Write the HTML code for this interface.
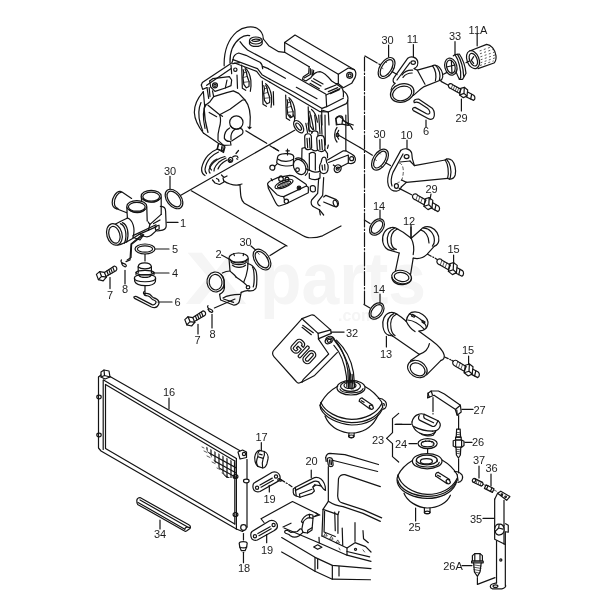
<!DOCTYPE html>
<html><head><meta charset="utf-8">
<style>
html,body{margin:0;padding:0;background:#fff;}
svg{display:block}
svg *{vector-effect:non-scaling-stroke}
.k path,.k ellipse,.k line,.k circle,.k polyline,.k rect,.k polygon{fill:none;stroke:#141414;stroke-width:1.2;stroke-linecap:round;stroke-linejoin:round}
.k .w{fill:#fff}
.k .b{fill:#1c1c1c}
.k .t{stroke-width:.7}
.k .d{stroke-dasharray:14 2 1.5 2}
text{font-family:"Liberation Sans",sans-serif;font-size:11px;fill:#1c1c1c;text-anchor:middle}
.wm{font-family:"Liberation Sans",sans-serif;font-weight:bold;fill:#f5f5f5;text-anchor:start}
</style></head><body>
<svg width="600" height="600" viewBox="0 0 600 600">
<rect width="600" height="600" fill="#fff"/>
<defs><filter id="idb" color-interpolation-filters="sRGB" x="-20%" y="-20%" width="140%" height="140%"><feOffset dx="0" dy="0"/></filter></defs>
<!-- watermark -->
<g filter="url(#idb)">
<text class="wm" x="185" y="304" style="font-size:74px" textLength="62" lengthAdjust="spacingAndGlyphs">X</text><text class="wm" x="260" y="304" style="font-size:74px" textLength="166" lengthAdjust="spacingAndGlyphs">parts</text>
<text class="wm" x="338" y="321" style="font-size:16px">.com</text>
</g>
<g class="k">
<!-- TILE A: part 1 housing, origin 90,160 scale .2 -->
<g transform="translate(90,160) scale(.2)">
<!-- upper-left port -->
<path class="w" d="M150,157 L210,193 L186,266 L133,244 C112,235 105,200 118,180 Z" style="stroke:none"/>
<path d="M150,157 C130,157 111,187 111,213 C111,230 120,241 133,244"/>
<path d="M157,161 C138,163 122,190 122,215 C122,230 129,239 140,243"/>
<path d="M150,157 L160,160 L208,192"/>
<path d="M133,244 L184,264"/>
<!-- cylinder B (back right) -->
<path class="w" d="M257,180 L260,215 L300,320 L352,275 L353,180 Z" style="stroke:none"/>
<path d="M256,184 L259,208"/>
<path d="M356,184 L356,272"/>
<ellipse class="w" cx="306" cy="181" rx="50" ry="29"/>
<ellipse cx="306" cy="183" rx="42" ry="22"/>
<path d="M268,196 C282,216 332,216 345,197"/>
<!-- flange right -->
<path d="M352,232 C368,232 378,242 378,256 L381,330 C381,345 366,352 348,353 L335,355"/>
<path d="M286,305 L300,322 L356,272"/>
<path d="M300,320 L292,352"/>
<path d="M318,318 L350,300"/>
<!-- cylinder A (front left) -->
<path class="w" d="M184,232 L186,292 L215,385 L290,350 L285,232 Z" style="stroke:none"/>
<path d="M184,235 L187,292"/>
<path d="M284,236 L286,305"/>
<ellipse class="w" cx="234" cy="232" rx="50" ry="29"/>
<ellipse cx="234" cy="234" rx="42" ry="22"/>
<path d="M197,247 C210,268 262,268 273,249"/>
<!-- front-left port -->
<path class="w" d="M122,327 C150,310 175,296 188,290 C215,300 228,340 215,386 L245,372 C200,400 165,420 135,428 Z" style="stroke:none"/>
<path d="M128,320 C150,308 175,296 188,290"/>
<path d="M138,426 C165,420 200,402 245,372"/>
<path d="M188,290 C214,300 228,342 215,386"/>
<path d="M152,318 C178,328 188,378 172,416"/>
<path d="M162,313 C188,323 198,372 183,411"/>
<ellipse class="w" cx="122" cy="372" rx="38" ry="55" transform="rotate(-16 122 372)"/>
<ellipse cx="122" cy="374" rx="27" ry="43" transform="rotate(-16 122 374)"/>
<!-- bottom tab -->
<path d="M215,378 L330,324"/>
<path d="M245,372 L333,333"/>
<path d="M250,372 C268,386 295,388 306,376 L333,352"/>
<path d="M326,332 L345,326 L346,345 L328,351 Z"/>
<path d="M215,386 L250,400 L268,374"/>
<!-- leader to clip 8 -->
<path d="M268,374 L208,422 L205,488 L186,500"/>
<!-- o-ring 30 -->
<ellipse cx="420" cy="195" rx="55" ry="36" transform="rotate(52 420 195)"/>
<ellipse cx="420" cy="195" rx="45" ry="27" transform="rotate(52 420 195)"/>
<!-- leaders -->
<path d="M400,82 L400,145"/>
<path d="M385,312 L440,312"/>
</g>
<!-- TILE B: parts 5,4,6,7,8 origin 90,230 scale .2 -->
<g transform="translate(90,230) scale(.2)">
<ellipse cx="275" cy="95" rx="50" ry="25"/>
<ellipse cx="275" cy="95" rx="38" ry="16"/>
<path d="M328,95 L395,95"/>
<path d="M275,122 L275,155"/>
<!-- thermostat 4 -->
<path d="M241,215 L241,182 C245,160 300,158 307,182 L307,215"/>
<path d="M241,185 C255,197 295,197 307,185"/>
<path d="M230,212 C240,198 310,198 320,212 C318,228 235,230 230,212 Z"/>
<path d="M230,212 L230,222 M320,212 L320,222"/>
<path d="M222,240 C222,218 328,218 328,240 C328,265 222,265 222,240 Z"/>
<path d="M222,240 L224,258 C235,285 318,285 327,258 L328,240"/>
<path d="M245,228 C255,240 295,240 305,228"/>
<path d="M312,215 L395,215"/>
<path d="M275,282 L275,322"/>
<!-- clip 6 -->
<path d="M270,318 C280,316 292,318 300,322 C308,328 310,334 317,338 C328,342 340,348 343,355 C346,362 346,368 343,372 C338,382 330,388 323,388 C318,388 312,387 307,385 L223,342 C218,338 218,333 223,333 C227,331 230,331 233,333 L310,373 C318,376 324,372 327,368 C330,364 331,360 330,358 C326,352 318,350 313,348 C306,344 304,338 300,335 C294,330 286,328 280,328"/>
<path d="M272,306 C266,310 266,320 270,318 M280,328 C274,328 270,324 270,318"/>
<path d="M340,360 L410,360"/>
<!-- bolt 7 left -->
<path d="M32,222 L48,208 L72,212 L82,236 L66,254 L42,248 Z"/>
<path d="M48,208 L58,232 L82,236 M58,232 L42,248"/>
<path d="M72,212 L122,180 C134,182 138,196 130,204 L80,232"/>
<path d="M84,205 L92,225 M94,199 L102,219 M104,193 L112,213 M114,187 L122,207"/>
<path d="M100,238 L100,293"/>
<!-- clip 8 -->
<path d="M157,150 C150,158 160,166 170,168 C182,172 186,182 176,184 C168,182 160,174 158,168"/>
<path d="M180,158 L200,150 L205,70 L262,22"/>
<path d="M175,202 L175,270"/>
<!-- bolt 7 right -->
<path d="M474,448 L490,434 L514,438 L524,462 L508,480 L484,474 Z"/>
<path d="M490,434 L500,458 L524,462 M500,458 L484,474"/>
<path d="M514,438 L566,404 C578,406 582,420 574,428 L522,458"/>
<path d="M527,430 L535,450 M537,424 L545,444 M547,417 L555,437 M557,411 L565,431"/>
<path d="M540,472 L540,520"/>
</g>
<!-- TILE C: part 2 origin 180,230 scale .2 -->
<g transform="translate(180,230) scale(.2)">
<!-- o-ring 30 -->
<ellipse cx="410" cy="148" rx="58" ry="36" transform="rotate(55 410 148)"/>
<ellipse cx="410" cy="148" rx="47" ry="26" transform="rotate(55 410 148)"/>
<path d="M388,112 L396,122 M432,132 L440,140 M392,170 L400,178 M424,186 L430,192" class="t"/>
<path d="M355,80 L378,100"/>
<path d="M450,128 L530,78"/>
<path d="M208,125 L245,145"/>
<!-- body flange -->
<path d="M338,168 C352,170 368,182 378,200 C386,215 386,270 380,290 C372,302 356,306 345,304"/>
<path d="M362,185 C372,200 374,260 366,285"/>
<ellipse cx="340" cy="286" rx="9" ry="8"/>
<!-- top cylinder -->
<path d="M245,143 L250,205 C258,215 270,218 280,235"/>
<path d="M341,143 L338,195 C335,215 328,240 318,262"/>
<ellipse class="w" cx="293" cy="140" rx="48" ry="25"/>
<path d="M250,146 C262,165 322,165 336,146"/>
<path d="M255,160 C268,178 320,178 333,160"/>
<path d="M262,176 C275,190 315,190 328,176"/>
<path d="M268,118 L272,128 M318,118 L316,128"/>
<!-- body -->
<path d="M250,205 C240,205 225,208 212,215"/>
<path d="M280,235 C300,250 315,258 335,278"/>
<path d="M222,272 C225,295 215,315 198,322"/>
<path d="M198,322 L203,350 L270,376 C285,374 296,364 298,352 L306,312"/>
<path d="M215,340 C235,328 265,322 300,322"/>
<path d="M218,345 L268,362"/>
<path d="M306,312 C318,306 330,300 345,304"/>
<!-- left port -->
<ellipse class="w" cx="178" cy="260" rx="43" ry="50" transform="rotate(-8 178 260)"/>
<ellipse cx="178" cy="261" rx="32" ry="39" transform="rotate(-8 178 261)"/>
<path d="M205,222 C222,235 225,265 218,290"/>
<!-- leader dash to clip -->
<path d="M275,345 L172,390"/>
<!-- clip 8 -->
<path d="M140,378 C133,386 143,394 152,396 C164,400 168,410 158,412 C150,410 142,402 140,396"/>
<path d="M160,422 L160,490"/>
</g>
<!-- ENGINE tile a: origin 190,25 scale 1/6 -->
<g transform="translate(190,25) scale(.166667)">
<path d="M205,245 C203,170 225,90 282,40 C320,10 372,4 402,20 C426,34 440,58 440,84"/>
<path d="M240,228 C238,170 258,112 300,80 C318,66 340,60 358,64"/>
<path d="M440,84 L472,124 L532,160 L568,164"/>
<ellipse cx="395" cy="93" rx="38" ry="21"/>
<path d="M357,95 L357,112 C366,134 424,134 433,112 L433,95"/>
<path d="M370,92 C380,82 412,82 422,90 C412,100 380,102 370,92 Z"/>
<path d="M300,100 C312,118 328,135 345,150 L480,222.5"/>
<path d="M258,208 C258,190 272,172 292,168 L336,182 L420,224 C432,234 436,250 436,262"/>
<path d="M258,208 L405,262 L432,298 L480,325.5"/>
<path d="M268,228 L400,278 L426,312 L480,343.5"/>
<path d="M470,262 L572,320"/>
<path d="M440,250 L470,262"/>
<!-- bracket -->
<path d="M68,360 L74,345 L252,226 L258,208"/>
<path d="M68,360 L76,386 L102,375"/>
<path d="M100,362 L245,262"/>
<path d="M118,336 L136,322 L236,310 L250,330 L246,364 L212,378"/>
<path d="M118,336 L124,372 L150,398 L212,378 L222,330"/>
<circle cx="150" cy="362" r="15"/><circle cx="150" cy="362" r="7"/>
<circle cx="272" cy="268" r="10"/>
<path d="M246,240 L250,292 M256,232 L298,226 M282,300 L285,380"/>
<path d="M102,375 L112,440"/>
<g transform="translate(210,180) scale(.8) translate(0,0)"><path d="M125,75 L130,250 L155,265"/>
<path d="M150,95 C170,110 188,145 194,190 C197,225 195,250 190,272"/>
<path d="M136,110 L141,132 L135,170 L141,220 L160,246 L180,236 L181,200 L166,160 L161,130 L151,108"/>
<path class="t" d="M135,170 L166,160 M139,205 L181,200 M141,132 L161,130"/></g>
<g transform="translate(210,180) scale(.8) translate(155,120)"><path d="M125,75 L130,250 L155,265"/>
<path d="M150,95 C170,110 188,145 194,190 C197,225 195,250 190,272"/>
<path d="M136,110 L141,132 L135,170 L141,220 L160,246 L180,236 L181,200 L166,160 L161,130 L151,108"/>
<path class="t" d="M135,170 L166,160 M139,205 L181,200 M141,132 L161,130"/></g>
<g transform="translate(210,180) scale(.8) translate(330,225)"><path d="M125,75 L130,250 L155,265"/>
<path d="M150,95 C170,110 188,145 194,190 C197,225 195,250 190,272"/>
<path d="M136,110 L141,132 L135,170 L141,220 L160,246 L180,236 L181,200 L166,160 L161,130 L151,108"/>
<path class="t" d="M135,170 L166,160 M139,205 L181,200 M141,132 L161,130"/></g>
</g>
<!-- ENGINE tile b: origin 270,25 scale 1/6 -->
<g transform="translate(270,25) scale(.166667)">
<!-- box -->
<path d="M88,105 L150,60 L506,268"/>
<path d="M88,105 L88,164 L235,250"/>
<path d="M88,105 L410,296"/>
<path d="M410,296 L470,258 L506,268 C516,280 516,302 510,316 L490,350 L440,376 L410,352 Z"/>
<circle cx="478" cy="302" r="18"/><circle cx="478" cy="302" r="9"/>
<!-- bracket -->
<path d="M235,250 L232,290 L200,310 L195,325 L215,336 L245,316 C258,296 278,280 300,280 C325,284 350,312 370,336 L396,352 L410,352"/>
<path d="M242,262 L242,296 M252,268 L252,300 M262,272 L258,300"/>
<path d="M205,318 L240,298"/>
<!-- cover right end -->
<path d="M396,352 L430,376 C440,388 442,410 440,432"/>
<path d="M440,396 C455,404 466,420 468,440 C468,455 464,466 458,472 L350,522 L310,510"/>
<path d="M336,420 L340,490 L440,440"/>
<path d="M340,490 L312,500"/>
<path d="M330,386 L396,360 M350,400 L406,376 M362,412 L416,388"/>
<path d="M336,420 L420,382"/>
<!-- cover ridges -->
<path d="M0,223 L334,414"/>
<path d="M250,334 L306,366 M262,322 L318,354 M240,350 L296,382"/>
<path d="M0,325 L146,404 L310,500"/>
<path d="M0,344 L300,520 L350,522"/>
<path d="M158,374 L282,442"/>
<!-- recess 4 -->
<g transform="translate(-480,0) translate(210,180) scale(.8) translate(499,313)"><path d="M125,75 L130,250 L155,265"/><path d="M150,95 C170,110 188,145 194,190"/><path d="M136,110 L141,132 L135,170 L141,220 L160,246"/></g>
<path d="M20,400 L22,480"/>
<!-- head right -->
<path d="M466,450 L470,600"/>
<path d="M350,522 L354,600"/>
<path d="M310,510 L312,600"/>
<!-- sender top -->
<path d="M395,560 C400,545 425,540 435,552 L440,575 L470,590 L500,600"/>
<path d="M395,560 L398,600"/>
</g>
<!-- ENGINE tile c: origin 190,115 scale 1/6 -->
<g transform="translate(190,115) scale(.166667)">
<!-- long leader lines -->
<path d="M-55,482 L628,92"/>
<path d="M8,455 L582,786"/>
<!-- dash-dot to fuel pump -->
<path d="M335,95 L460,170 M480,184 L530,214"/>
<!-- pulley -->
<path d="M165,204 C140,214 122,226 108,242 C90,262 76,290 70,318 C68,338 74,354 90,363"/>
<path d="M171,222 C150,232 135,242 122,256 C106,274 94,300 90,326 C90,338 94,346 99,351"/>
<path d="M210,249 C190,254 175,260 160,270 C140,284 122,305 114,328 C113,338 116,344 120,348"/>
<path d="M162,264 C148,270 138,278 130,288 C122,298 118,308 120,316 C122,322 125,327 129,330"/>
<path d="M216,258 C198,264 184,274 172,284 C160,296 150,310 146,322 L144,336"/>
<path d="M222,270 C206,278 194,288 184,298 C176,308 170,316 168,324"/>
<path d="M171,177 L162,204 L192,219 L201,225 L210,192 L204,183"/>
<path d="M192,192 L189,216"/>
<ellipse cx="243" cy="270" rx="13" ry="15" transform="rotate(30 243 270)"/>
<circle cx="242" cy="273" r="6"/>
<path d="M256,252 C264,246 276,244 284,248 L288,256"/>
<path d="M276,231 L291,213 M280,262 L286,265"/>
<!-- block bottom outline -->
<path d="M135,390 L150,408 L177,417 L204,402 L198,378 M204,396 C215,405 228,410 240,414 C258,420 275,422 288,420 L300,420 C302,450 303,475 306,492 C310,510 316,522 326,530 L660,714 C680,726 694,734 712,736 C745,738 775,732 795,725 L906,666"/>
<path d="M189,360 L204,375 L222,366 M159,381 L171,387 L174,399"/>
<path d="M288,420 L312,414"/>
</g>
<!-- ENGINE tile d: origin 270,115 scale 1/6 -->
<g transform="translate(270,115) scale(.166667)">
<!-- gasket on engine -->
<ellipse cx="172" cy="70" rx="42" ry="23" transform="rotate(55 172 70)"/>
<ellipse cx="172" cy="70" rx="25" ry="11" transform="rotate(55 172 70)"/>
<!-- plug recess 4 continuing + wires -->
<path d="M118,0 L128,12 M140,0 L150,20"/>
<path d="M245,0 C250,30 258,60 262,88"/>
<path d="M268,0 C272,30 276,60 275,88"/>
<path d="M215,50 L225,105 M228,48 L236,100"/>
<path d="M292,0 L300,112 M306,0 L312,115"/>
<path d="M330,0 L332,180"/>
<!-- distributor towers -->
<path d="M208,130 C208,108 245,106 248,128 L250,195 C245,212 215,212 210,195 Z"/>
<path d="M250,110 C252,90 285,90 288,108 L288,125"/>
<path d="M280,140 C282,118 322,116 326,140 L330,205 C325,224 290,224 284,205 Z"/>
<path d="M222,140 L226,195 M236,138 L240,196 M296,150 L300,208 M310,148 L314,208"/>
<!-- distributor body -->
<path d="M192,200 L210,195 M192,200 L190,290 C200,312 220,328 236,332"/>
<path d="M250,205 C262,215 275,218 284,212"/>
<path d="M330,210 L345,232 L345,256"/>
<path d="M236,232 L236,330 C255,345 285,345 298,338"/>
<path d="M236,232 C250,222 262,222 272,232 L272,330"/>
<path d="M236,350 L236,380 C255,392 290,390 300,378 L300,348"/>
<!-- side bulb -->
<path d="M305,345 C292,330 296,300 306,285 L312,262 C318,250 332,250 336,262 L340,285 C352,300 352,330 340,345 C330,352 315,352 305,345 Z"/>
<path d="M312,300 L316,330 M328,298 L330,330"/>
<!-- vacuum disc -->
<path d="M152,262 C172,250 205,262 222,295 C232,322 228,350 212,362"/>
<ellipse cx="178" cy="312" rx="34" ry="48" transform="rotate(-28 178 312)" class="w"/>
<circle cx="165" cy="328" r="11"/>
<!-- fuel pump -->
<path d="M45,255 C45,228 140,222 142,250"/>
<path d="M45,255 L40,285 C50,305 110,312 140,300 L142,250"/>
<path d="M48,265 C70,282 120,282 140,266"/>
<path d="M105,205 L105,240 M96,215 L116,215"/>
<circle cx="14" cy="316" r="15"/>
<path d="M28,308 L45,290"/>
<path d="M20,195 L52,215"/>
<!-- base plate -->
<path d="M-14,410 C-8,400 2,394 14,390 L50,374 L118,362 C130,362 142,366 150,370 L214,414 C220,418 220,424 218,426 L82,490 C70,490 54,484 42,478 L-10,426 C-14,420 -16,414 -14,410 Z"/>
<path d="M-12,424 L-10,440 L34,526 C40,538 48,546 56,546 L94,534 L230,466 L230,434 L218,426"/>
<path d="M82,490 L86,506"/>
<circle cx="174" cy="438" r="11"/><circle cx="174" cy="438" r="5" class="b"/>
<circle cx="98" cy="518" r="13"/>
<circle cx="66" cy="384" r="14" class="w"/><circle cx="102" cy="386" r="12" class="w"/>
<path d="M56,374 C58,362 74,362 76,374 M94,378 C96,368 108,368 110,378"/>
<ellipse cx="84" cy="414" rx="58" ry="20" transform="rotate(-22 84 414)"/>
<ellipse cx="84" cy="416" rx="42" ry="11" transform="rotate(-22 84 416)"/>
<path class="t" d="M56,424 L108,402 M60,430 L112,408 M50,420 L100,398"/>
<path d="M6,382 L14,394"/>
<!-- small bolt near 250,440 -->
<path d="M242,430 C250,420 270,422 272,434 L272,455 C262,465 246,462 242,452 Z"/>
<!-- pipe down -->
<path d="M292,380 L286,470 L250,510 C240,530 250,548 270,555 L296,568 L322,600"/>
<path d="M322,375 L316,482 L288,518 C282,530 290,540 300,545"/>
<path d="M296,568 L302,600"/>
<!-- small cylinder -->
<path d="M322,492 L335,482 L398,508 C415,518 415,545 398,552 L385,548 L322,522"/>
<ellipse cx="392" cy="530" rx="12" ry="20" transform="rotate(-20 392 530)"/>
<!-- engine right side -->
<path d="M455,0 L455,215"/>
<path d="M350,180 L345,200"/>
<!-- mount bracket -->
<path d="M345,270 L440,215 L455,215 L492,236 C512,245 518,268 508,282 C498,292 480,292 470,288 L402,322"/>
<path d="M352,285 L470,240 L470,288"/>
<circle cx="490" cy="262" r="12"/>
<ellipse cx="406" cy="322" rx="20" ry="24" transform="rotate(30 406 322)"/><circle cx="406" cy="322" r="9"/>
<path d="M380,300 L390,308"/>
<!-- temp sender -->
<path d="M395,22 L414,8 L436,22 L432,55 L402,58 Z"/>
<path d="M436,28 L482,64 L496,86 L488,72"/>
<path d="M432,55 L470,62"/>
<!-- hook -->
<path d="M402,75 C385,95 382,140 402,162"/>
<path d="M412,92 C400,110 400,130 412,145"/>
<ellipse cx="405" cy="120" rx="8" ry="10"/>
<path d="M412,122 L540,195"/>
</g>
<!-- ENGINE timing cover: origin 185,75 scale 1/6 -->
<g transform="translate(185,75) scale(.166667)">
<path d="M118,186 L150,160 L172,130 L250,106 L290,95 L322,110 L360,150 C385,180 396,235 390,300 L386,322 M378,312 L386,322 L396,314"/>
<path d="M118,186 L115,200 C116,250 125,300 138,345"/>
<path d="M138,182 L208,238 C215,260 215,290 205,320 C198,345 196,370 198,392 L232,422"/>
<path d="M208,238 L270,205 L345,150 L360,150"/>
<path d="M145,225 L190,250 M208,238 L225,248"/>
<circle cx="308" cy="285" r="40"/>
<path d="M272,305 C282,325 310,332 335,318"/>
<path d="M268,318 C245,330 235,350 236,380 C245,395 262,400 272,398 L276,420 L232,422"/>
<path d="M300,326 C280,340 272,360 276,388"/>
<path d="M332,320 C350,325 352,345 342,355 L280,396"/>
<!-- left arcs -->
<path d="M110,100 C75,140 55,185 56,225 C58,270 80,310 112,350"/>
<path d="M96,165 C80,200 80,250 92,295 L106,335"/>
<path d="M126,176 C110,200 105,250 120,320"/>
<path d="M112,350 L165,386 L200,410 L232,424"/>
<path d="M200,415 L195,445 L230,456 L236,425"/>
<path d="M222,428 L220,452"/>
<path d="M110,100 L118,186"/>
<path d="M172,130 L165,95 M145,75 L150,130"/>
</g>
<!-- TILE F: part 11, ring 30, clip 6 origin 365,15 scale .2 -->
<g transform="translate(365,15) scale(.2)">
<!-- ring 30 -->
<ellipse cx="108" cy="265" rx="58" ry="34" transform="rotate(-58 108 265)"/>
<ellipse cx="108" cy="265" rx="47" ry="24" transform="rotate(-58 108 265)"/>
<path class="t" d="M80,262 L90,268 M100,230 L108,238 M112,296 L120,302 M135,262 L142,268"/>
<path d="M118,150 L118,210"/>
<path class="d" d="M0,205 L78,250"/>
<path d="M135,282 L160,298"/>
<path d="M242,148 L242,208"/>
<!-- flange -->
<path d="M150,342 C138,338 138,322 146,312 L214,216 C228,204 256,208 263,230 C267,248 258,262 246,268"/>
<path d="M160,325 L225,238"/>
<ellipse cx="241" cy="238" rx="11" ry="9"/>
<path d="M185,300 C195,285 215,275 238,276 M190,312 C200,298 218,290 236,290"/>
<!-- pipe body -->
<path d="M246,268 L262,276 L338,254"/>
<path d="M262,276 C275,300 290,328 300,346"/>
<path d="M242,402 C262,385 280,368 296,358 L376,326"/>
<path d="M150,342 C140,350 132,362 130,375"/>
<!-- bead -->
<path d="M338,254 C345,248 360,250 372,262 C388,280 394,308 384,322 C380,328 378,328 376,326"/>
<path d="M352,252 C372,268 380,300 372,326"/>
<path d="M338,254 C350,270 358,300 352,330"/>
<!-- opening -->
<ellipse class="w" cx="186" cy="390" rx="60" ry="45" transform="rotate(-18 186 390)"/>
<ellipse cx="186" cy="392" rx="49" ry="35" transform="rotate(-18 186 392)"/>
<!-- dash to bolt -->
<path d="M380,332 L414,350"/>
<path d="M392,296 L408,288"/>
<!-- clip 6 -->
<path d="M246,438 C240,428 250,420 268,420 L338,468 C348,480 350,505 342,516 C335,524 322,522 315,518 L242,478 C234,472 238,462 250,462 L308,494 C318,498 326,494 324,484 C322,475 318,470 312,466 L268,438 C260,434 252,436 246,438 Z"/>
<path d="M305,525 L305,560"/>
<path d="M482,420 L482,480"/>
</g>
<!-- TILE G: 33, 11A, 29 origin 430,15 scale 1/6 -->
<g transform="translate(430,15) scale(.166667)">
<path d="M283,115 L283,185"/>
<path d="M150,160 L150,235"/>
<!-- hose 11A -->
<path d="M238,216 L340,176 C365,178 390,205 396,245 C398,265 392,280 384,288 L288,322"/>
<ellipse class="w" cx="258" cy="268" rx="36" ry="56" transform="rotate(-22 258 268)"/>
<ellipse cx="260" cy="268" rx="22" ry="40" transform="rotate(-22 260 268)"/>
<path d="M262,250 L248,272 L262,290"/>
<g class="dots"><path class="t" style="stroke-dasharray:1.2 3.2" d="M300,215 L372,190 M302,232 L382,205 M305,250 L388,222 M306,268 L390,240 M305,286 L388,258 M302,302 L380,276"/></g>
<!-- clamp 33 -->
<ellipse cx="125" cy="310" rx="36" ry="52" transform="rotate(-15 125 310)"/>
<ellipse cx="125" cy="310" rx="25" ry="40" transform="rotate(-15 125 310)"/>
<path d="M100,312 L150,300 M128,272 L132,350"/>
<path d="M140,245 L150,238 L176,234 C195,262 212,310 216,350 L196,386 L176,386 C168,370 160,352 156,340"/>
<path d="M150,238 C172,270 188,330 184,376 L176,386"/>
<path d="M165,236 C185,268 200,320 202,368"/>
<path d="M216,286 L236,276"/>
<!-- pipe end (from 11) handled in F -->
<!-- bolt 29 -->
<path d="M112,418 C118,408 132,410 136,418 L186,446 L176,470 L122,440 C112,436 108,426 112,418 Z"/>
<path class="t" d="M136,418 L128,440 M148,424 L140,448 M160,432 L152,455 M172,438 L164,462"/>
<path d="M184,440 L206,434 L226,450 L222,486 L200,496 L178,480 Z"/>
<path d="M206,434 L204,470 L222,486 M204,470 L178,480"/>
<path d="M226,462 L262,482 C272,490 272,506 262,512 L218,492"/>
<path d="M250,476 L244,504"/>
</g>
<!-- TILE H: part 10 origin 360,120 scale .2 -->
<g transform="translate(360,120) scale(.2)">
<path d="M100,95 L100,145"/>
<ellipse cx="100" cy="198" rx="58" ry="34" transform="rotate(-58 100 198)"/>
<ellipse cx="100" cy="198" rx="47" ry="24" transform="rotate(-58 100 198)"/>
<path class="t" d="M72,196 L82,202 M94,162 L102,170 M104,230 L112,236 M126,196 L134,202"/>
<path d="M0,137.500 L62,176"/>
<path d="M128,214 L152,228"/>
<path d="M235,100 L235,140"/>
<!-- flange -->
<path d="M204,152 C220,138 250,142 258,164 C262,178 258,192 266,208 L272,228"/>
<path d="M204,152 L150,250 C140,275 136,310 142,328 C148,345 165,356 182,356 C195,354 204,345 206,335"/>
<path d="M215,170 L165,262 C156,285 154,312 160,330"/>
<ellipse cx="233" cy="183" rx="12" ry="10"/>
<ellipse cx="182" cy="330" rx="10" ry="12"/>
<path class="t" style="stroke-dasharray:3 2.5" d="M196,215 C215,218 222,250 212,290 C208,305 200,312 190,312"/>
<path d="M200,210 L250,205 M206,335 L232,312"/>
<!-- pipe -->
<path d="M250,205 L272,228 L426,200"/>
<path d="M232,312 L438,292"/>
<path d="M426,200 C432,192 448,192 460,202 C474,216 482,250 476,275 C472,288 462,296 448,296 L438,292"/>
<path d="M432,196 C450,212 460,250 452,285 L448,296"/>
<path d="M426,200 C440,220 446,262 438,292"/>
<path d="M208,300 L232,312"/>
<!-- dash + bolt 29 -->
<path d="M196,342 L258,374"/>
<path d="M264,376 C270,366 284,368 288,376 L330,400 L320,424 L274,398 C264,394 260,384 264,376 Z"/>
<path class="t" d="M288,376 L280,398 M300,382 L292,405 M312,390 L304,412"/>
<path d="M326,394 L346,388 L364,402 L360,438 L340,448 L320,432 Z"/>
<path d="M346,388 L344,424 L360,438 M344,424 L320,432"/>
<path d="M364,414 L392,430 C400,436 400,452 390,458 L356,440"/>
<path d="M380,424 L374,450"/>
<path d="M355,370 L350,398"/>
<!-- 14 ring -->
<path d="M255,535 L255,590"/>
</g>
<!-- vertical dash-dot line -->
<path class="d" d="M364.500,57 L364.500,304"/>
<!-- TILE I: part 12 origin 360,195 scale .2 -->
<g transform="translate(360,195) scale(.2)">
<ellipse cx="85" cy="160" rx="46" ry="31" transform="rotate(-52 85 160)"/>
<ellipse cx="85" cy="160" rx="37" ry="22" transform="rotate(-52 85 160)"/>
<path d="M22,125 L50,142"/>
<path d="M100,75 L100,118"/>
<!-- left port -->
<path d="M152,164 C125,170 108,200 114,235 C118,258 135,275 152,277"/>
<path d="M152,164 C165,160 180,164 192,172"/>
<path d="M172,166 C145,175 132,205 138,238 C142,258 155,272 170,274"/>
<path d="M186,170 C162,180 150,208 156,240 C160,258 170,270 182,272"/>
<path d="M152,277 L196,290"/>
<path d="M192,172 L216,186 L256,216"/>
<!-- junction and right port -->
<path d="M256,216 L304,174"/>
<path d="M256,216 C268,240 272,270 266,298"/>
<path d="M304,174 C312,160 335,154 355,162 C380,172 398,200 394,228 C392,242 384,252 372,256"/>
<path d="M318,166 C345,165 372,192 372,228 C372,240 368,250 362,256"/>
<path d="M304,174 C325,180 345,205 345,240"/>
<path d="M372,256 L336,296 C320,312 292,322 266,316"/>
<!-- down pipe -->
<path d="M196,290 L176,386"/>
<path d="M266,316 L252,402"/>
<ellipse class="w" cx="208" cy="410" rx="50" ry="33" transform="rotate(10 208 410)"/>
<ellipse cx="208" cy="410" rx="37" ry="22" transform="rotate(10 208 410)"/>
<path d="M160,412 C160,435 185,450 215,448 C240,446 258,432 258,415"/>
<path d="M255,150 L255,215"/>
<!-- dash to bolt 15 -->
<path d="M338,296 L356,306 M364,310 L368,312 M376,316 L386,322"/>
<!-- bolt 15 -->
<path d="M386,326 C392,316 406,318 410,326 L452,350 L442,374 L396,348 C386,344 382,334 386,326 Z"/>
<path class="t" d="M410,326 L402,348 M422,332 L414,355 M434,340 L426,362"/>
<path d="M448,344 L468,338 L486,352 L482,388 L462,398 L442,382 Z"/>
<path d="M468,338 L466,374 L482,388 M466,374 L442,382"/>
<path d="M486,364 L512,378 C520,384 520,400 510,406 L478,390"/>
<path d="M500,372 L494,398"/>
<path d="M468,300 L468,345"/>
<!-- top bolt partial handled in H -->
<path d="M100,495 L100,540"/>
</g>
<!-- TILE J: part 13 origin 365,290 scale .2 -->
<g transform="translate(365,290) scale(.2)">
<ellipse cx="58" cy="105" rx="46" ry="31" transform="rotate(-52 58 105)"/>
<ellipse cx="58" cy="105" rx="37" ry="22" transform="rotate(-52 58 105)"/>
<path d="M-5,72 L25,90"/>
<!-- left port -->
<path d="M122,114 C98,122 84,150 90,185 C94,208 105,222 118,226"/>
<path d="M122,114 C135,110 150,114 162,122"/>
<path d="M144,118 C120,128 108,155 114,190 C118,210 126,222 138,228"/>
<path d="M158,120 C134,132 124,158 130,192 C133,210 140,222 150,228"/>
<path d="M118,226 L138,230"/>
<path d="M162,122 L182,136 L206,156"/>
<!-- stub -->
<path d="M206,156 C208,140 214,128 222,120 C232,108 262,104 288,122 C308,136 318,155 314,172 C312,184 300,198 288,202 L270,206"/>
<path d="M222,120 C240,124 270,138 290,158 C300,168 308,180 306,190"/>
<path d="M214,150 C235,152 270,168 296,196"/>
<path d="M236,122 L250,128 L246,136 L232,130 Z M288,152 L300,160 L296,168 L285,160 Z"/>
<path d="M206,156 C215,175 230,195 250,208"/>
<!-- main pipe -->
<path d="M270,206 L330,250 C360,272 390,300 396,326 C398,340 390,350 380,352"/>
<path d="M138,230 L272,322"/>
<path d="M322,268 C318,290 300,312 272,322"/>
<path d="M272,322 L228,352"/>
<path d="M380,352 L308,424"/>
<ellipse class="w" cx="262" cy="395" rx="52" ry="40" transform="rotate(32 262 395)"/>
<ellipse cx="263" cy="397" rx="40" ry="29" transform="rotate(32 263 397)"/>
<path d="M107,232 L107,285"/>
<!-- dash + bolt 15 -->
<path d="M398,335 L416,343 M424,347 L428,349 M434,352 L442,356"/>
<path d="M440,358 C446,348 460,350 464,358 L506,382 L496,406 L450,380 C440,376 436,366 440,358 Z"/>
<path class="t" d="M464,358 L456,380 M476,364 L468,387 M488,372 L480,394"/>
<path d="M502,376 L522,370 L540,384 L536,420 L516,430 L496,414 Z"/>
<path d="M522,370 L520,406 L536,420 M520,406 L496,414"/>
<path d="M540,396 L566,410 C574,416 574,432 564,438 L532,422"/>
<path d="M554,404 L548,430"/>
<path d="M518,330 L518,372"/>
</g>
<!-- TILE K: bottle 32 origin 265,305 scale .216667 -->
<g transform="translate(265,305) scale(.216667)">
<!-- front face -->
<path d="M171,63 L41,208 C33,216 33,230 41,238 L143,352 C148,358 152,361 158,360 L171,355"/>
<path d="M171,355 L229,325 L334,219"/>
<path d="M171,355 L177,343 L294,226 L246,156"/>
<path d="M171,63 L214,46 C219,45 223,46 227,48 L303,115 L306,131 L248,155"/>
<path d="M171,63 L177,69 L245,131 L303,115"/>
<path d="M245,131 L247,156"/>
<path d="M174,94 L223,128 M171,103 L214,137"/>
<!-- spout -->
<ellipse cx="294" cy="166" rx="17" ry="12" transform="rotate(-25 294 166)"/>
<ellipse cx="296" cy="165" rx="9" ry="6" transform="rotate(-25 296 165)"/>
<path d="M280,158 C284,146 300,140 312,148 C318,152 320,158 318,162"/>
<path d="M305,125 L365,125"/>
<!-- stream -->
<path d="M310,150 C345,180 375,240 382,300 L386,382"/>
<path d="M322,165 C352,200 385,260 395,320 L398,388"/>
<path d="M318,186 C345,215 368,270 376,330 L378,378"/>
<path d="M330,162 C365,195 398,250 408,310 L414,380"/>
<path d="M388,300 L392,385 M402,320 L406,388"/>
<!-- G10 -->
<g transform="translate(112,200) rotate(43) scale(1.15,1.08)">
<path d="M38,-44 L38,-48 A16,16 0 0 0 22,-62 L16,-62 A16,16 0 0 0 0,-46 L0,-16 A16,16 0 0 0 16,0 L22,0 A16,16 0 0 0 38,-16 L38,-32 L20,-32 L20,-22 L28,-22 L28,-16 A6,6 0 0 1 22,-10 L16,-10 A6,6 0 0 1 10,-16 L10,-46 A6,6 0 0 1 16,-52 L22,-52 A6,6 0 0 1 28,-46 L28,-44 Z"/>
<rect x="46" y="-62" width="12" height="62" rx="5"/>
<rect x="66" y="-62" width="34" height="62" rx="16"/>
<rect x="76" y="-52" width="14" height="42" rx="7"/>
</g>
</g>
<!-- TILE L: upper tank origin 300,360 scale 1/6 -->
<g transform="translate(300,360) scale(.166667)">
<!-- sphere upper -->
<path d="M226,158 C185,180 150,215 126,256"/>
<path d="M392,160 C430,180 465,215 490,252"/>
<!-- neck -->
<ellipse cx="306" cy="166" rx="84" ry="44"/>
<path d="M240,175 C250,205 370,205 378,172"/>
<ellipse cx="303" cy="158" rx="60" ry="30"/>
<ellipse cx="300" cy="153" rx="36" ry="18"/>
<!-- seam -->
<path d="M126,256 C150,310 225,352 310,356 C395,356 460,320 490,262"/>
<path d="M120,272 C150,330 225,372 310,376 C400,376 468,338 496,284"/>
<path d="M126,256 L120,272 L124,292"/>
<path d="M124,292 C150,345 225,385 310,390 C400,390 465,352 492,300"/>
<!-- tab -->
<path d="M470,230 C482,228 500,236 512,248 C522,260 520,280 510,290 L496,296"/>
<path d="M490,252 L496,284 M500,262 C506,262 508,270 504,274"/>
<!-- lower hemisphere -->
<path d="M150,336 C170,385 215,425 290,438 L330,438 C390,430 440,395 468,332"/>
<!-- bottom nipple -->
<path d="M294,438 L292,458 C296,470 320,470 324,458 L325,438"/>
<ellipse cx="308" cy="458" rx="16" ry="8"/>
<!-- hose nipple -->
<path d="M372,228 L436,272 M356,248 L420,294"/>
<ellipse cx="428" cy="283" rx="10" ry="14" transform="rotate(-35 428 283)"/>
<path d="M372,228 C362,228 354,238 356,248"/>
<path d="M368,244 L384,254"/>
<!-- brace 23 -->
<path d="M520,470 L555,436 L555,352 L592,320"/>
<path d="M520,470 L555,502 L555,580 L592,612"/>
<path d="M570,386 L612,386"/>
</g>
<!-- TILE M: cap 23, ring 24, valve 26, bracket 27, tank 25 origin 380,390 scale .2 -->
<g transform="translate(380,390) scale(.2)">
<path d="M80,172 L155,172"/>
<!-- part 27 -->
<path d="M240,16 L256,5 L292,5 L322,20 L402,76 L406,110 L386,126 L376,96 L300,46 L270,26 L246,36 Z"/>
<path d="M256,5 L262,24 M402,76 L378,96 M386,126 L384,100"/>
<path d="M240,16 L238,40 L246,36"/>
<path d="M410,97 L465,97"/>
<path class="d" d="M265,38 L265,120"/>
<path class="d" d="M393,128 L393,196"/>
<!-- cap 23 -->
<path d="M160,160 C165,140 178,126 192,122 C200,118 212,118 222,122 L290,154 C300,162 304,176 298,188 C292,200 278,206 262,206"/>
<path d="M160,160 C158,168 160,176 166,182 C195,196 230,206 262,206"/>
<path d="M196,128 C190,138 192,148 200,152 L262,182 C272,184 282,176 284,166 L290,154"/>
<path d="M222,122 C216,130 218,140 226,144 L268,164"/>
<path d="M166,182 C172,198 186,210 200,216 C225,226 255,226 275,212 L280,204"/>
<path d="M200,216 C212,228 245,234 266,226 L275,212"/>
<!-- ring 24 -->
<path d="M145,268 L185,268"/>
<ellipse cx="238" cy="268" rx="48" ry="25"/>
<ellipse cx="238" cy="270" rx="32" ry="14"/>
<path class="t" d="M212,258 L216,264 M228,252 L230,258 M246,252 L246,258 M262,258 L258,264 M270,268 L264,270"/>
<path d="M238,296 L238,345"/>
<!-- tank 25 upper -->
<path d="M166,350 C135,368 105,395 90,426"/>
<path d="M310,350 C345,370 372,398 386,424"/>
<ellipse class="w" cx="236" cy="356" rx="74" ry="38"/>
<path d="M180,365 C190,392 290,392 296,362"/>
<ellipse cx="234" cy="350" rx="52" ry="24"/>
<ellipse cx="232" cy="356" rx="30" ry="13"/>
<path d="M182,350 L182,358 M286,350 L286,358"/>
<!-- tab -->
<path d="M372,408 C384,406 400,412 410,424 C416,436 412,452 402,458 L390,462"/>
<path d="M386,424 L390,452"/>
<!-- nipple -->
<path d="M292,412 L348,448 M278,430 L334,468"/>
<ellipse cx="341" cy="458" rx="9" ry="12" transform="rotate(-35 341 458)"/>
<path d="M292,412 C282,412 276,420 278,430 M288,426 L302,434"/>
<!-- valve 26 -->
<path d="M383,200 L383,196 L401,196 L401,200 L403,236 L381,236 Z"/>
<path d="M378,236 L406,236 L406,250 L378,250 Z"/>
<path d="M366,254 L378,250 L408,250 L420,256 L420,278 L408,286 L378,286 L366,280 Z"/>
<path d="M378,250 L378,286 M408,250 L408,286"/>
<path d="M380,286 L382,325 L392,340 L402,325 L404,286"/>
<path class="t" d="M381,296 L403,300 M381,306 L403,310 M382,316 L403,320 M385,212 L401,214 M385,222 L401,224"/>
<path d="M425,262 L460,262"/>
<path class="d" d="M393,344 L393,420"/>
<!-- 37, 36 -->
<path d="M495,380 L495,440"/>
<path d="M555,420 L555,480"/>
<ellipse cx="470" cy="452" rx="8" ry="10" transform="rotate(25 470 452)"/>
<path d="M474,443 L512,462 M466,461 L506,480"/>
<path class="t" d="M486,450 L480,468 M496,455 L490,473 M506,460 L500,478"/>
<path d="M512,462 C518,466 516,478 506,480"/>
<path d="M530,474 L570,494 L562,512 L522,492 Z"/>
<path d="M540,479 L532,497 M560,489 L552,507"/>
<path class="t" d="M514,470 L524,476 M570,500 L582,506"/>
</g>
<!-- TILE N: tank 25 lower, 26A origin 380,470 scale .2 -->
<g transform="translate(380,470) scale(.2)">
<path d="M90,26 C84,40 84,60 92,76 C110,112 170,140 236,142 C300,142 355,118 378,72 C384,60 386,50 386,40"/>
<path d="M90,26 C100,75 165,120 236,122 C300,122 360,95 384,45"/>
<path d="M88,50 C100,98 165,130 236,132 C300,132 358,108 382,58"/>
<path d="M120,116 C135,155 185,188 236,190 C290,190 335,165 352,126"/>
<path d="M222,190 L222,212 C226,220 246,220 250,212 L250,190"/>
<ellipse cx="236" cy="212" rx="14" ry="6"/>
<path d="M178,190 L178,255"/>
<path d="M515,242 L570,242"/>
<path d="M410,478 L460,478"/>
<!-- screw 26A -->
<path d="M462,428 L474,418 L500,418 L512,428 L512,455 L462,455 Z"/>
<path d="M474,418 L474,455 M500,418 L500,455"/>
<path d="M458,455 L516,455 L516,464 L458,464 Z"/>
<path d="M468,464 L472,510 L487,532 L500,510 L506,464"/>
<path class="t" d="M468,474 L506,480 M469,486 L505,492 M470,498 L503,504 M474,510 L498,516"/>
<path d="M487,538 L487,572 L575,538"/>
</g>
<!-- TILE O: bracket 35 origin 440,440 scale .266667 -->
<g transform="translate(440,440) scale(.266667)">
<path d="M216,200 L228,192 L262,212 L250,226 Z"/>
<circle cx="232" cy="205" r="3"/><circle cx="246" cy="213" r="3"/>
<path d="M205,222 L205,372 L245,392"/>
<path d="M205,222 L216,200 M240,226 L240,318"/>
<path d="M212,378 L212,536 M245,345 L245,546"/>
<path d="M240,320 L240,390"/>
<!-- clip -->
<path class="w" d="M206,332 C206,322 214,314 222,316 C232,314 240,322 240,334 C242,346 234,356 224,356 C214,358 206,350 208,342 C204,340 204,334 206,332 Z"/>
<path d="M222,316 L220,330 L208,342 M220,330 L236,334"/>
<path d="M246,314 L256,320 L256,346 L246,344"/>
<circle cx="228" cy="450" r="4"/>
<!-- foot -->
<path d="M212,536 L196,540 C186,544 186,554 196,558 L232,558 C242,556 248,550 246,544"/>
<ellipse cx="208" cy="548" rx="9" ry="4.500"/>
</g>
<!-- RADIATOR 16 (full coords) -->
<g>
<path d="M110,376.500 L240,450.700"/>
<path d="M103.500,380 L236.400,458.500"/>
<path d="M105.500,384.500 L234.800,461"/>
<path d="M98.500,377 L98.500,448 L101,451 L236.400,529"/>
<path d="M103.200,380 L103.200,449.500"/>
<path d="M105.500,384.500 L105.500,448.500 L234.800,524"/>
<path d="M98.500,377 L101,375"/>
<!-- top-left cap -->
<path d="M101,372 L104,370 L109,371 L110,377 L105,379 L101,377 Z"/>
<path d="M104,370 L104.500,375.500 L110,377 M104.500,375.500 L101,377"/>
<ellipse cx="99" cy="397" rx="2.200" ry="1.800"/>
<ellipse cx="99" cy="435" rx="2.200" ry="1.800"/>
<!-- right tank -->
<path d="M236.400,458.500 L236.400,529"/>
<path d="M234.800,461 L234.800,524"/>
<path d="M247,459.500 L247,527"/>
<path d="M236.400,529 L242.500,531.500 L247,527"/>
<path d="M238,452 L242.500,450 L246.500,452 L246.500,457.500 L240,459 Z"/>
<circle cx="244" cy="454" r="1.600"/>
<ellipse cx="235.500" cy="476.500" rx="2.400" ry="2"/>
<ellipse cx="235.500" cy="514.500" rx="2.400" ry="2"/>
<ellipse cx="246.300" cy="481" rx="2.800" ry="1.800" class="w"/>
<circle cx="243.500" cy="527.500" r="2.800" class="w"/>
<!-- mesh -->
<clipPath id="mesh"><polygon points="203,445 236,463 236,478 226,478"/></clipPath>
<g clip-path="url(#mesh)" class="t">
<path d="M200,448 L240,470 M198,452 L240,475 M198,456.500 L240,479.500 M198,461 L240,484 M198,465.500 L240,488.500 M198,470 L240,493"/>
<path d="M207,440 L207,482 M211,440 L211,482 M215,440 L215,482 M219,440 L219,482 M223,440 L223,482 M227,440 L227,482 M231,440 L231,482 M234.500,440 L234.500,482"/>
</g>
<path class="t" d="M202,447 L204,448 M204,451 L207,452.500 M207,456 L210,457.500 M212,462 L215,463.500 M217,468 L220,469.500 M222,473 L225,474.500"/>
<!-- leader 16 -->
<path d="M169,398 L169,409"/>
</g>
<!-- TILE R: strip 34 origin 120,480 scale .2 -->
<g transform="translate(120,480) scale(.2)">
<path d="M84,102 C84,94 92,88 100,88 L344,224 C352,228 354,236 350,242 L334,254 C328,258 322,256 318,252 L88,122 C84,118 84,110 84,102 Z"/>
<path d="M100,100 L336,234 M90,112 L324,246"/>
<path d="M324,246 C326,238 332,234 338,236 L350,238"/>
<path d="M200,200 L200,245"/>
</g>
<!-- TILE Q: 17,18,19 origin 180,420 scale .266667 -->
<g transform="translate(180,420) scale(.266667)">
<path d="M305,85 L305,115"/>
<!-- 17 -->
<path d="M280,140 C282,126 290,116 298,114 L316,118 C326,122 332,134 330,146 L326,164 C322,174 316,180 310,180 L292,174 C284,168 280,156 280,140 Z"/>
<path d="M298,114 C292,122 290,130 292,138 L312,144 C316,136 318,126 316,118"/>
<path d="M292,138 C286,150 286,164 292,174 M312,144 C308,156 308,170 310,180"/>
<path d="M298,128 L308,131"/>
<!-- link 19 upper -->
<path d="M278,236 L346,196 C356,192 370,196 374,208 C378,220 372,228 364,232 L300,268 C290,272 278,268 275,258 C272,248 274,240 278,236 Z"/>
<path d="M300,244 L346,218 M304,252 L350,226"/>
<circle cx="289" cy="254" r="6"/><circle cx="360" cy="212" r="6"/>
<path d="M335,245 L335,270"/>
<path d="M376,222 L392,232 M398,236 L402,238 M408,242 L420,250"/>
<!-- link 19 lower -->
<path d="M270,418 L336,378 C346,374 360,378 364,390 C368,402 362,410 354,414 L290,450 C280,454 270,450 267,440 C264,430 266,422 270,418 Z"/>
<path d="M292,426 L338,400 M296,434 L342,408"/>
<circle cx="281" cy="436" r="6"/><circle cx="351" cy="394" r="6"/>
<path d="M325,430 L325,460"/>
<!-- clip 18 -->
<path d="M238,426 L238,450"/>
<path d="M222,462 C224,454 250,454 252,462 L250,476 L244,490 L230,490 L224,476 Z"/>
<path d="M224,476 C232,480 244,480 250,476"/>
<path d="M238,496 L238,535"/>
</g>
<!-- TILE S: frame origin 275,440 scale .266667 -->
<g transform="translate(275,440) scale(.266667)">
<path d="M190,66 C192,56 198,50 206,50 L262,55 L388,92"/>
<path d="M215,76 L385,118"/>
<path d="M196,72 C196,64 214,64 216,74 L218,94 C216,102 204,102 200,94 Z"/>
<path d="M204,74 L206,92 M210,74 L212,92"/>
<path d="M190,66 L192,80 M200,100 L200,230 L180,260 L176,360"/>
<path d="M238,146 C240,136 250,128 262,130 L395,175"/>
<path d="M238,146 L235,210 C236,224 244,234 252,236 L332,262 L400,292"/>
<path d="M200,230 C215,240 235,248 255,250 L330,275 L395,305"/>
<path d="M180,260 L236,280 L236,350"/>
<path d="M224,270 L226,340 M236,280 L240,268"/>
<path d="M186,268 L184,345 L226,362"/>
<path d="M300,310 L300,380 M252,330 L254,395 M330,340 L332,370 L350,385"/>
<path d="M176,360 L270,405 L300,385 L340,400 L360,420"/>
<path d="M165,365 L166,386 L270,432 L270,405"/>
<path d="M270,432 L360,455"/>
<path d="M270,418 L355,438"/>
<path class="t" d="M190,350 L196,360 L184,360 Z M212,362 L218,372 L206,372 Z M236,376 L242,386 L230,386 Z"/>
<circle cx="302" cy="410" r="4"/>
<path class="t" d="M330,412 L336,420 M240,405 L244,412"/>
<!-- beam -->
<path d="M30,326 L60,312"/>
<path d="M34,330 L166,386"/>
<path d="M25,366 L150,440 L215,470 L360,482"/>
<path d="M25,420 L60,440 L150,492 L215,522 L358,524"/>
<path d="M150,440 L150,492 M160,446 L160,482 M215,470 L215,522 M240,474 L240,510"/>
<path d="M145,401 L160,393 L176,402 L160,410 Z"/>
</g>
<!-- TILE T: part 20, clamp origin 255,470 scale .15 -->
<g transform="translate(255,470) scale(.15)">
<circle cx="160" cy="66" r="8"/><path d="M168,62 L178,68 L172,76"/>
<path d="M375,0 L375,50"/>
<!-- part 20 -->
<path d="M255,126 L270,115 L385,56 C395,50 412,48 425,52 C445,60 462,85 468,110 L470,136 L456,126 L440,106 L406,100 L386,114 L396,140 L380,156 L300,182 L270,172 C260,166 255,158 255,150 Z"/>
<path d="M270,136 L392,76 C402,72 415,74 425,80"/>
<path d="M270,115 L270,136 L275,172"/>
<path d="M386,114 L400,96 M425,80 L440,106"/>
<path d="M300,182 L296,160 L380,128"/>
<!-- leader -->
<path d="M60,350 L40,325 L250,210 L432,300 L392,312"/>
<!-- clamp -->
<path d="M310,345 C315,325 335,300 362,296 L386,300 L386,330 L380,400 L350,420 L320,416"/>
<path d="M320,352 C325,335 345,320 364,318 L386,322"/>
<path d="M310,345 L320,352 L312,395 L320,416"/>
<path d="M364,318 L362,296 M350,420 L352,402 L380,385"/>
<path d="M320,416 L292,440 C275,450 250,448 236,438 L226,430 L204,422 C194,416 196,404 208,402 L216,402 L240,416 L282,410 L302,392 L312,395"/>
<path d="M392,312 L420,296 L405,285"/>
</g>

</g>
<defs><filter id="idf" color-interpolation-filters="sRGB" x="0" y="0" width="100%" height="100%" filterUnits="userSpaceOnUse"><feOffset dx="0" dy="0"/></filter></defs><g id="labels" filter="url(#idf)" transform="translate(0,-0.4)">
<text x="170" y="175">30</text>
<text x="183" y="227">1</text>
<text x="175" y="253">5</text>
<text x="175" y="277">4</text>
<text x="177.500" y="306">6</text>
<text x="110" y="299">7</text>
<text x="125" y="293">8</text>
<text x="197.500" y="344">7</text>
<text x="245.500" y="246">30</text>
<text x="218.500" y="258">2</text>
<text x="212.500" y="338">8</text>
<text x="387.500" y="44">30</text>
<text x="412.500" y="43.500">11</text>
<text x="455" y="40.500">33</text>
<text x="478" y="34">11A</text>
<text x="426" y="135.500">6</text>
<text x="461.500" y="122.500">29</text>
<text x="379.500" y="138">30</text>
<text x="406.500" y="139">10</text>
<text x="431.500" y="193.500">29</text>
<text x="379" y="210">14</text>
<text x="409" y="225">12</text>
<text x="453.500" y="253.500">15</text>
<text x="379" y="293">14</text>
<text x="386" y="358.500">13</text>
<text x="468" y="354">15</text>
<text x="352" y="337">32</text>
<text x="378" y="444">23</text>
<text x="479.500" y="414">27</text>
<text x="401" y="448">24</text>
<text x="478" y="446.500">26</text>
<text x="479" y="464.500">37</text>
<text x="491.500" y="472.500">36</text>
<text x="414.500" y="531.500">25</text>
<text x="476" y="523.500">35</text>
<text x="453" y="570">26A</text>
<text x="169" y="396">16</text>
<text x="160" y="538">34</text>
<text x="261.500" y="441">17</text>
<text x="269.500" y="503">19</text>
<text x="267" y="554.500">19</text>
<text x="244" y="572.500">18</text>
<text x="311.500" y="465.500">20</text>

</g>
</svg>
</body></html>
